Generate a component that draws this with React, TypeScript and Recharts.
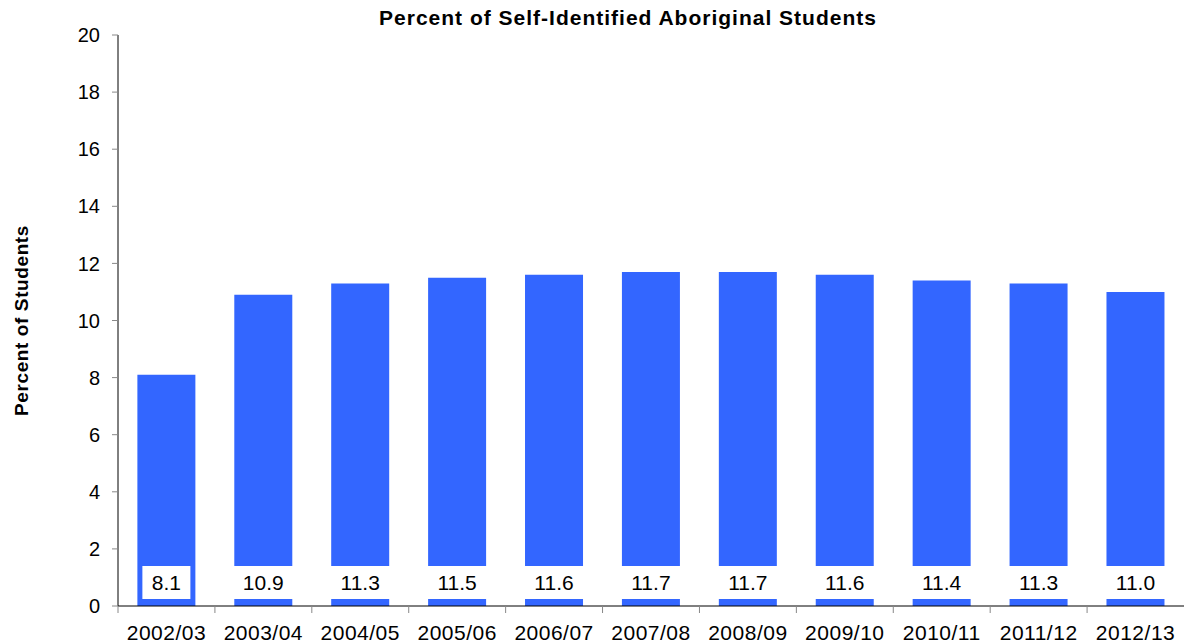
import { Bar, BarChart, LabelList, XAxis, YAxis } from "recharts";

const years = [
  "2002/03", "2003/04", "2004/05", "2005/06", "2006/07", "2007/08",
  "2008/09", "2009/10", "2010/11", "2011/12", "2012/13",
];
const percents = [8.1, 10.9, 11.3, 11.5, 11.6, 11.7, 11.7, 11.6, 11.4, 11.3, 11.0];
const yTicks = [0, 2, 4, 6, 8, 10, 12, 14, 16, 18, 20];

const data = years.map((year, i) => ({ year, pct: percents[i] }));

const W = 1184;
const H = 644;
const LEFT = 118;
const font = "'Liberation Sans', Arial, sans-serif";
const band = (W - LEFT) / years.length;

function XTick(props: any) {
  const { x, y, payload } = props;
  const axisY = y - 8;
  return (
    <g>
      <line x1={x - band / 2} x2={x - band / 2} y1={axisY} y2={axisY + 7} stroke="#888" />
      <text
        x={x}
        y={axisY + 34}
        textAnchor="middle"
        fontSize={21}
        letterSpacing={0.5}
        fontFamily={font}
        fill="#000"
      >
        {payload.value}
      </text>
    </g>
  );
}

function ValueLabel(props: any) {
  const { x, y, width, height, value } = props;
  const txt = Number(value).toFixed(1);
  const bottom = y + height;
  const tw = txt.length * 12 + 12;
  const cx = x + width / 2;
  return (
    <g>
      <rect x={cx - tw / 2} y={bottom - 40} width={tw} height={33} fill="#fff" />
      <text x={cx} y={bottom - 16} textAnchor="middle" fontSize={21} fontFamily={font} fill="#000">
        {txt}
      </text>
    </g>
  );
}

export default function App() {
  return (
    <div style={{ position: "fixed", left: 0, top: 0, width: W, height: H, background: "#fff" }}>
      <div
        style={{
          position: "absolute",
          left: 0,
          width: W,
          top: 6,
          textAlign: "center",
          fontFamily: font,
          fontWeight: "bold",
          fontSize: 21,
          letterSpacing: 1,
          paddingLeft: 72,
          boxSizing: "border-box",
        }}
      >
        Percent of Self-Identified Aboriginal Students
      </div>
      <BarChart
        width={W}
        height={H}
        data={data}
        margin={{ top: 35, right: 0, left: 0, bottom: 0 }}
        barCategoryGap="20%"
      >
        <XAxis
          dataKey="year"
          stroke="#000"
          tickLine={false}
          tick={<XTick />}
          interval={0}
          height={38}
        />
        <YAxis
          domain={[0, 20]}
          ticks={yTicks}
          width={LEFT}
          stroke="#000"
          tickLine={{ stroke: "#888" }}
          tickSize={6}
          tickMargin={12}
          tick={{ fontSize: 20, fontFamily: font, fill: "#000" }}
          label={{
            value: "Percent of Students",
            angle: -90,
            position: "insideLeft",
            offset: 21,
            style: {
              fontSize: 19,
              fontWeight: "bold",
              letterSpacing: 0.6,
              fontFamily: font,
              fill: "#000",
              textAnchor: "middle",
            },
          }}
        />
        <Bar dataKey="pct" fill="#3366FF" isAnimationActive={false}>
          <LabelList dataKey="pct" content={<ValueLabel />} />
        </Bar>
      </BarChart>
    </div>
  );
}
